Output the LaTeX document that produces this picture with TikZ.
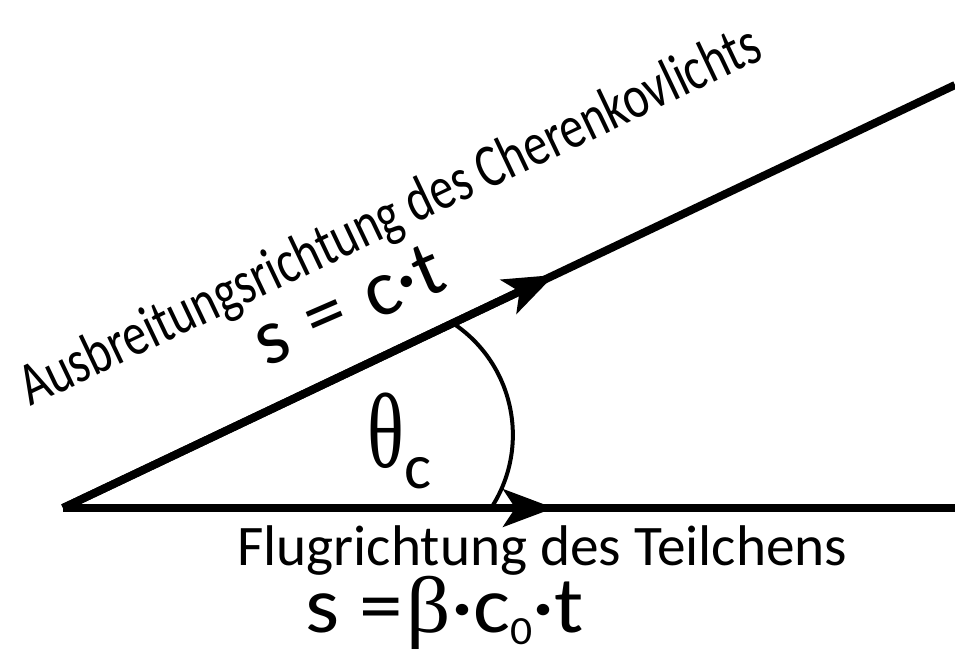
\documentclass[tikz,border=0pt]{standalone}
\usepackage{fontspec}
\setmainfont{Carlito}
\newfontfamily\greekfont{Liberation Serif}
\usetikzlibrary{arrows.meta, positioning, calc}

\begin{document}
\begin{tikzpicture}[x=0.75pt, y=-0.75pt,
    beam/.style={line width=6pt},
    beamtip/.style={-{Stealth[length=38pt, width=28pt, inset=9pt]}},
    anglearc/.style={line width=3pt},
    labeltext/.style={inner sep=0pt, font=\fontsize{43}{50}\selectfont},
    formula/.style={inner sep=0pt, font=\fontsize{60}{68}\selectfont}]
    \useasboundingbox (0,0) rectangle (955,653);

    \coordinate (origin) at (63,508);
    \coordinate (lightend) at (955,85);
    \coordinate (flightend) at (955,508);
    \coordinate (lightmid) at ($(origin)!0.551!(lightend)$);
    \coordinate (flightmid) at (554,508);
    \coordinate (arcstart) at ($(origin)!0.437!(lightend)$);

    % beams, arrows drawn on top
    \draw [beam] (origin) -- (lightend);
    \draw [beam] (origin) -- (flightend);
    \draw [beam, beamtip] (origin) -- (lightmid);
    \draw [beam, beamtip] (origin) -- (flightmid);
    \draw [anglearc] (arcstart) arc [start angle=-56.5, end angle=32, radius=134];

    \node (light) [inner sep=0pt, font=\fontsize{46}{52}\selectfont, anchor=base west, rotate=25.4, xscale=0.78] at (30,407) {Ausbreitungsrichtung des Cherenkovlichts};
    \node (lighteq) [formula, anchor=base west, rotate=23.5] at (266,368) {s\hspace{0.3em}=\hspace{0.3em}c·t};
    \node (theta) [inner sep=0pt, anchor=base west, xscale=0.72, font=\fontsize{80}{90}\greekfont] at (367,467) {θ};
    \node (thetasub) [inner sep=0pt, anchor=base west, font=\fontsize{48}{56}\selectfont] at (404,488) {c};
    \node (flight) [labeltext, anchor=base west] at (237,565) {Flugrichtung des Teilchens};
    \node (flighteq) [formula, anchor=base west, xscale=1.09] at (305,632) {s =\hspace{0.05em}{\greekfont β}·c\raisebox{-0.15em}{\fontsize{30}{32}\selectfont 0}·t};
\end{tikzpicture}
\end{document}
